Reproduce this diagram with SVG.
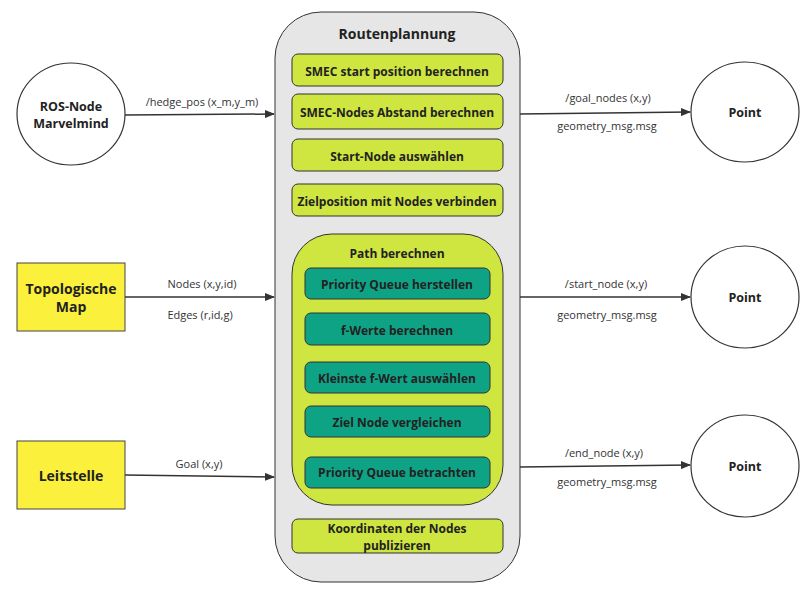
<svg xmlns="http://www.w3.org/2000/svg" width="812" height="589" viewBox="0 0 812 589">
<defs>
<marker id="arr" markerWidth="10" markerHeight="8" refX="9" refY="4" orient="auto" markerUnits="userSpaceOnUse">
<path d="M0,0 L10,4 L0,8 Z" fill="#333"/>
</marker>
<style>
.b{font-family:"Open Sans","Liberation Sans",sans-serif;font-weight:bold;fill:#222;text-anchor:middle;dominant-baseline:central}
.bx{font-size:12px}
.l{font-family:"Open Sans","Liberation Sans",sans-serif;font-size:11px;fill:#333;text-anchor:middle;dominant-baseline:central}
.lime{fill:#cfe640;stroke:#333;stroke-width:1}
.teal{fill:#0fa385;stroke:#333;stroke-width:1}
.yel{fill:#fbf03c;stroke:#444;stroke-width:1}
.circ{fill:#fff;stroke:#333;stroke-width:1.2}
.c{stroke:#333;stroke-width:1.5;fill:none;marker-end:url(#arr)}
</style>
</defs>
<rect width="812" height="589" fill="#fff"/>
<g id="routenplannung">
<rect x="275" y="12" width="245" height="570" rx="46" ry="46" fill="#e6e6e6" stroke="#333" stroke-width="1"/>
<text class="b" x="397" y="33" font-size="14">Routenplannung</text>
</g>
<g id="smec-start">
<rect class="lime" x="292" y="54" width="211" height="32" rx="6"/>
<text class="b bx" x="397" y="71">SMEC start position berechnen</text>
</g>
<g id="smec-abstand">
<rect class="lime" x="292" y="94" width="211" height="35" rx="6"/>
<text class="b bx" x="397" y="112">SMEC-Nodes Abstand berechnen</text>
</g>
<g id="start-node">
<rect class="lime" x="292" y="139" width="211" height="32" rx="6"/>
<text class="b bx" x="397" y="156">Start-Node auswählen</text>
</g>
<g id="zielposition">
<rect class="lime" x="292" y="184" width="211" height="32" rx="6"/>
<text class="b bx" x="397" y="201">Zielposition mit Nodes verbinden</text>
</g>
<g id="path-berechnen">
<rect class="lime" x="292" y="234" width="211" height="271" rx="40"/>
<text class="b bx" x="397" y="253">Path berechnen</text>
</g>
<g id="pq-herstellen">
<rect class="teal" x="305" y="268" width="185" height="31" rx="6"/>
<text class="b bx" x="397" y="284">Priority Queue herstellen</text>
</g>
<g id="f-werte">
<rect class="teal" x="305" y="313" width="185" height="32" rx="6"/>
<text class="b bx" x="397" y="330">f-Werte berechnen</text>
</g>
<g id="kleinste">
<rect class="teal" x="305" y="362" width="185" height="31" rx="6"/>
<text class="b bx" x="397" y="378">Kleinste f-Wert auswählen</text>
</g>
<g id="ziel-node">
<rect class="teal" x="305" y="406" width="185" height="31" rx="6"/>
<text class="b bx" x="397" y="422">Ziel Node vergleichen</text>
</g>
<g id="pq-betrachten">
<rect class="teal" x="305" y="457" width="185" height="31" rx="6"/>
<text class="b bx" x="397" y="472">Priority Queue betrachten</text>
</g>
<g id="koordinaten">
<rect class="lime" x="292" y="519" width="211" height="34" rx="6"/>
<text class="b bx" x="397" y="528">Koordinaten der Nodes</text>
<text class="b bx" x="397" y="545">publizieren</text>
</g>
<g id="ros-node">
<ellipse class="circ" cx="71" cy="114" rx="54" ry="51"/>
<text class="b" x="71" y="106" font-size="12.5">ROS-Node</text>
<text class="b" x="71" y="123" font-size="12.5">Marvelmind</text>
</g>
<g id="topologische-map">
<rect class="yel" x="17" y="263" width="108" height="68"/>
<text class="b" x="71" y="288" font-size="14">Topologische</text>
<text class="b" x="71" y="306" font-size="14">Map</text>
</g>
<g id="leitstelle">
<rect class="yel" x="17" y="441" width="108" height="68"/>
<text class="b" x="71" y="475" font-size="14">Leitstelle</text>
</g>
<g id="point-goal">
<ellipse class="circ" cx="745" cy="112" rx="54" ry="50"/>
<text class="b" x="745" y="112" font-size="12.5">Point</text>
</g>
<g id="point-start">
<ellipse class="circ" cx="745" cy="297" rx="54" ry="51"/>
<text class="b" x="745" y="297" font-size="12.5">Point</text>
</g>
<g id="point-end">
<ellipse class="circ" cx="745" cy="466" rx="54" ry="51"/>
<text class="b" x="745" y="466" font-size="12.5">Point</text>
</g>
<g id="connectors">
<line class="c" x1="125" y1="115" x2="274" y2="114"/>
<text class="l" x="202" y="101">/hedge_pos (x_m,y_m)</text>
<line class="c" x1="125" y1="297" x2="274" y2="297"/>
<text class="l" x="202" y="283">Nodes (x,y,id)</text>
<text class="l" x="200" y="314">Edges (r,id,g)</text>
<line class="c" x1="125" y1="475" x2="274" y2="477"/>
<text class="l" x="199" y="463">Goal (x,y)</text>
<line class="c" x1="520" y1="114" x2="690" y2="112"/>
<text class="l" x="608" y="97">/goal_nodes (x,y)</text>
<text class="l" x="607" y="125">geometry_msg.msg</text>
<line class="c" x1="520" y1="297" x2="690" y2="297"/>
<text class="l" x="606" y="283">/start_node (x,y)</text>
<text class="l" x="607" y="314">geometry_msg.msg</text>
<line class="c" x1="520" y1="467" x2="690" y2="465"/>
<text class="l" x="604" y="452">/end_node (x,y)</text>
<text class="l" x="607" y="481">geometry_msg.msg</text>
</g>
</svg>
